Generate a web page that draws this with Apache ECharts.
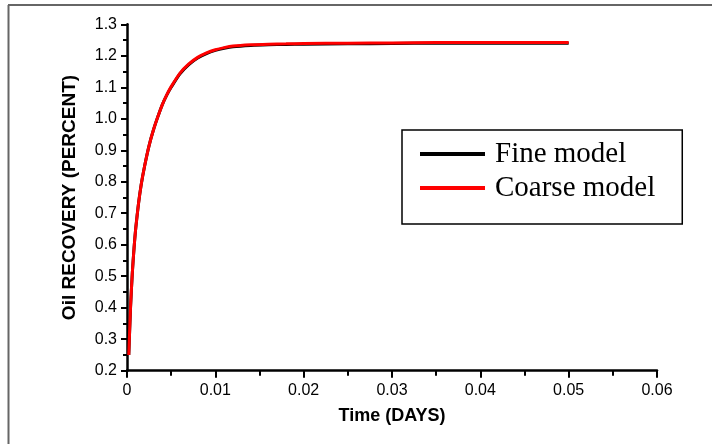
<!DOCTYPE html>
<html>
<head>
<meta charset="utf-8">
<script src="https://cdn.jsdelivr.net/npm/echarts@6/dist/echarts.min.js"></script>
<style>html,body{margin:0;padding:0;background:#fff}#c{width:712px;height:444px}</style>
</head>
<body>
<div id="c"></div>
<script>
var times = [0.0002, 0.0004, 0.0006, 0.0008, 0.001, 0.0013, 0.0016, 0.002, 0.0025, 0.003, 0.0035, 0.004, 0.0045, 0.005, 0.006, 0.007, 0.008, 0.009, 0.010, 0.011, 0.012, 0.014, 0.016, 0.018, 0.020, 0.025, 0.030, 0.035, 0.040, 0.045, 0.050];
var fineModel = [0.25, 0.40, 0.51, 0.59, 0.655, 0.73, 0.79, 0.851, 0.915, 0.965, 1.007, 1.045, 1.075, 1.100, 1.143, 1.172, 1.193, 1.207, 1.217, 1.224, 1.229, 1.233, 1.235, 1.236, 1.237, 1.238, 1.239, 1.240, 1.240, 1.240, 1.240];
var coarseModel = [0.25, 0.40, 0.51, 0.59, 0.655, 0.73, 0.79, 0.851, 0.915, 0.965, 1.007, 1.045, 1.076, 1.102, 1.145, 1.174, 1.195, 1.209, 1.219, 1.226, 1.231, 1.235, 1.237, 1.238, 1.239, 1.240, 1.241, 1.242, 1.242, 1.242, 1.242];
var xTickLabels = ['0', '0.01', '0.02', '0.03', '0.04', '0.05', '0.06'];
var yTickLabels = ['0.2', '0.3', '0.4', '0.5', '0.6', '0.7', '0.8', '0.9', '1.0', '1.1', '1.2', '1.3'];
var seriesNames = ['Fine model', 'Coarse model'];

function pairs(xs, ys) { return xs.map(function (x, i) { return [x, ys[i]]; }); }

var chart = echarts.init(document.getElementById('c'), null, {renderer: 'canvas'});
chart.setOption({
  animation: false,
  backgroundColor: '#fff',
  grid: {left: 127, top: 24.3, right: 55, bottom: 73.3, containLabel: false},
  xAxis: {
    type: 'value', min: 0, max: 0.06, interval: 0.01,
    name: 'Time (DAYS)', nameLocation: 'middle', nameGap: 36,
    nameTextStyle: {fontFamily: 'Liberation Sans', fontWeight: 'bold', fontSize: 18, color: '#000'},
    axisLine: {show: true, onZero: false, lineStyle: {color: '#000', width: 2.5}},
    axisTick: {show: true, length: 7, lineStyle: {color: '#000', width: 2}},
    minorTick: {show: true, splitNumber: 2, length: 5, lineStyle: {color: '#000', width: 2}},
    splitLine: {show: false},
    axisLabel: {
      margin: 12, fontFamily: 'Liberation Sans', fontSize: 16, color: '#000',
      formatter: function (v) { return xTickLabels[Math.round(v / 0.01)]; }
    }
  },
  yAxis: {
    type: 'value', min: 0.2, max: 1.3, interval: 0.1,
    name: 'Oil RECOVERY (PERCENT)', nameLocation: 'middle', nameGap: 48,
    nameTextStyle: {fontFamily: 'Liberation Sans', fontWeight: 'bold', fontSize: 19, color: '#000'},
    axisLine: {show: true, onZero: false, lineStyle: {color: '#000', width: 2.5}},
    axisTick: {show: true, length: 6, lineStyle: {color: '#000', width: 2}},
    minorTick: {show: true, splitNumber: 2, length: 4, lineStyle: {color: '#000', width: 2}},
    splitLine: {show: false},
    axisLabel: {
      margin: 10, fontFamily: 'Liberation Sans', fontSize: 16, color: '#000',
      formatter: function (v) { return yTickLabels[Math.round((v - 0.2) / 0.1)]; }
    }
  },
  legend: {
    orient: 'vertical', left: 402, top: 130,
    padding: [7, 27, 19, 18], itemGap: 0,
    itemWidth: 65, itemHeight: 4, icon: 'rect',
    borderColor: '#000', borderWidth: 1.5, backgroundColor: '#fff',
    textStyle: {fontFamily: 'Liberation Serif', fontSize: 29, color: '#000', lineHeight: 34, padding: [0, 0, 0, 5]},
    data: seriesNames
  },
  series: [
    {name: seriesNames[0], type: 'line', data: pairs(times, fineModel), showSymbol: false, symbol: 'none', smooth: 0.25,
     lineStyle: {color: '#000', width: 3}, itemStyle: {color: '#000'}},
    {name: seriesNames[1], type: 'line', data: pairs(times, coarseModel), showSymbol: false, symbol: 'none', smooth: 0.25,
     lineStyle: {color: '#ff0000', width: 3}, itemStyle: {color: '#ff0000'}}
  ],
  graphic: [
    {type: 'line', shape: {x1: 8, y1: 5, x2: 712, y2: 5}, style: {stroke: '#666', lineWidth: 2}},
    {type: 'line', shape: {x1: 8.5, y1: 5, x2: 8.5, y2: 444}, style: {stroke: '#666', lineWidth: 2}}
  ]
});
</script>
</body>
</html>
